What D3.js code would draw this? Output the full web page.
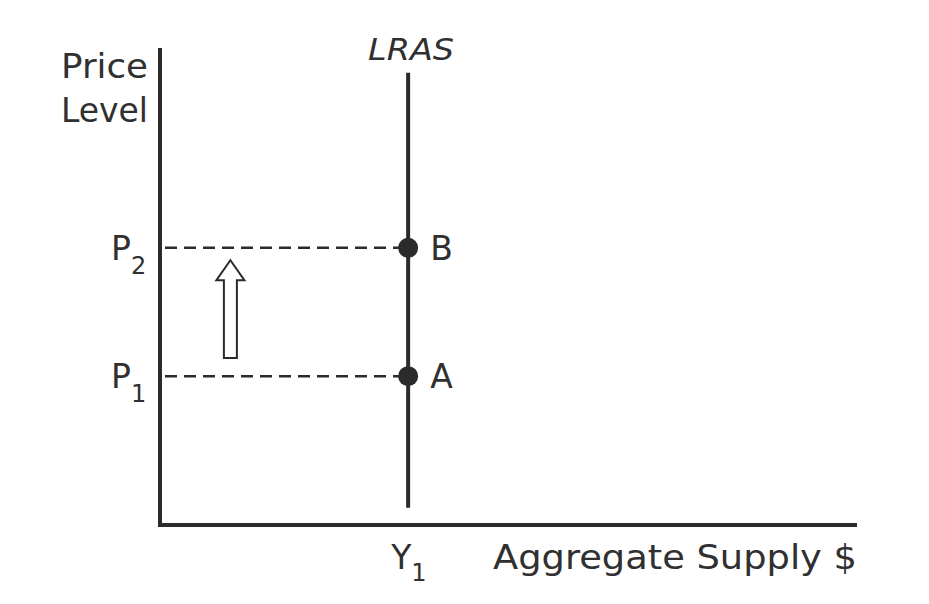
<!DOCTYPE html>
<html><head><meta charset="utf-8">
<script src="https://cdn.jsdelivr.net/npm/d3@7"></script>
<style>body{margin:0;background:#fff}svg{display:block}text{font-family:"DejaVu Sans","Liberation Sans",sans-serif;fill:#303030}</style>
</head><body>
<script>
// Data
const pointLabels = ["A", "B"];
const priceLabels = ["P1", "P2"];
const priceValues = [31.2, 58.1];
const outputLabel = "Y1";
const outputValue = 35.6;
const lrasRange = [3.6, 94.8];
const arrowRange = [35, 55.5]; // y-values of arrow bottom and tip
const arrowX = 10.1;

const W = 929, H = 604;
const svg = d3.select("body").append("svg").attr("width", W).attr("height", H);
const x = d3.scaleLinear().domain([0, 100]).range([160, 857]);
const y = d3.scaleLinear().domain([0, 100]).range([525, 48]);
const ink = "#2b2b2b";

// axes
svg.append("path").attr("d", `M${x(0)},${y(100)}V${y(0)}H${x(100)}`)
  .attr("fill", "none").attr("stroke", ink).attr("stroke-width", 4);

// dashed lines
priceValues.forEach(v => {
  svg.append("line").attr("x1", x(0) + 5).attr("x2", x(outputValue) - 6)
    .attr("y1", y(v)).attr("y2", y(v))
    .attr("stroke", ink).attr("stroke-width", 2.5).attr("stroke-dasharray", "12,7");
});

// LRAS
svg.append("line").attr("x1", x(outputValue)).attr("x2", x(outputValue))
  .attr("y1", y(lrasRange[0])).attr("y2", y(lrasRange[1]))
  .attr("stroke", ink).attr("stroke-width", 4);
svg.append("text").attr("x", 368).attr("y", 60)
  .attr("font-size", 30).attr("font-style", "italic")
  .attr("textLength", 86).attr("lengthAdjust", "spacingAndGlyphs").text("LRAS");

// points
priceValues.forEach((v, i) => {
  svg.append("circle").attr("cx", x(outputValue)).attr("cy", y(v)).attr("r", 10).attr("fill", ink);
  svg.append("text").attr("x", x(outputValue) + 22).attr("y", y(v) + 12)
    .attr("font-size", 33).text(pointLabels[i]);
  const t = svg.append("text").attr("x", 111).attr("y", y(v) + 12).attr("font-size", 33);
  t.append("tspan").text(priceLabels[i][0]);
  t.append("tspan").attr("dy", 14).attr("font-size", 24).text(priceLabels[i].slice(1));
});

// Y1 label
const ty = svg.append("text").attr("x", x(outputValue) - 17).attr("y", 569).attr("font-size", 33);
ty.append("tspan").text(outputLabel[0]);
ty.append("tspan").attr("dy", 12).attr("font-size", 24).text(outputLabel.slice(1));

// axis titles
svg.append("text").attr("x", 61).attr("y", 78).attr("font-size", 34)
  .attr("textLength", 87).attr("lengthAdjust", "spacingAndGlyphs").text("Price");
svg.append("text").attr("x", 61).attr("y", 122).attr("font-size", 34)
  .attr("textLength", 87).attr("lengthAdjust", "spacingAndGlyphs").text("Level");
svg.append("text").attr("x", 493).attr("y", 569).attr("font-size", 34)
  .attr("textLength", 364).attr("lengthAdjust", "spacingAndGlyphs").text("Aggregate Supply $");

// arrow
const ax = x(arrowX), yb = y(arrowRange[0]), yt = y(arrowRange[1]);
const sw = 6.5, hw = 14, hh = 20;
svg.append("path")
  .attr("d", `M${ax - sw},${yb}V${yt + hh}H${ax - hw}L${ax},${yt}L${ax + hw},${yt + hh}H${ax + sw}V${yb}Z`)
  .attr("fill", "#fff").attr("stroke", ink).attr("stroke-width", 2);
</script>
</body></html>
